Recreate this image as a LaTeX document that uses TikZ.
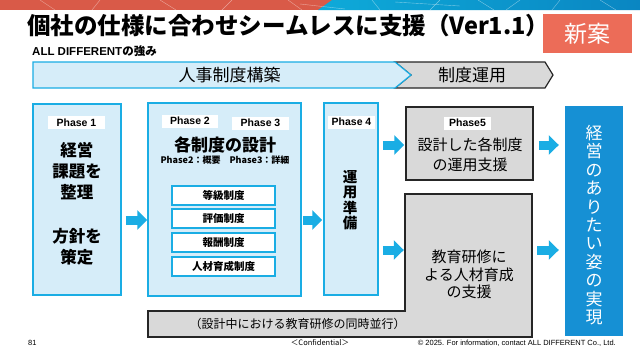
\documentclass[tikz,border=0pt]{standalone}
\usepackage{fontspec}
\setmainfont{Liberation Sans}
\newfontfamily\jp{Noto Sans CJK JP}
\usetikzlibrary{arrows.meta}
\definecolor{lb}{HTML}{D6EDF9}
\definecolor{cy}{HTML}{1AADE4}
\definecolor{gr}{HTML}{D9D9D9}
\definecolor{dk}{HTML}{262626}
\definecolor{db}{HTML}{1690D4}
\definecolor{sal}{HTML}{EC6C58}
\definecolor{rd}{HTML}{D95A48}
\definecolor{blA}{HTML}{0EAAD9}
\definecolor{blB}{HTML}{0A86C2}
\newcommand{\fs}[2]{\fontsize{#1}{#2}\selectfont}
\tikzset{
  bluebox/.style={draw=cy, fill=lb, line width=1.5pt, inner sep=0pt},
  greybox/.style={draw=dk, fill=gr, line width=1.5pt, inner sep=0pt},
  phasetag/.style={fill=white, inner sep=0pt, minimum height=13pt, font=\bfseries\fs{10.5}{12}},
  subbox/.style={draw=cy, fill=white, line width=1.5pt, minimum width=103pt, minimum height=19pt, inner sep=0pt, font=\jp\bfseries\fs{10.5}{12}},
  bigarrow/.style={draw=cy, line width=9pt, -{Triangle[length=10pt,width=19pt]}},
  txt/.style={inner sep=0pt, align=center}
}
\begin{document}
\begin{tikzpicture}[x=1pt,y=-1pt]
\useasboundingbox (0,0) rectangle (640,360);
\fill[white] (0,0) rectangle (640,360);
% top decorative strip
\fill[rd] (0,0) rectangle (332,10);
\shade[left color=blA, right color=blB] (318,10) -- (332,0) -- (640,0) -- (640,10) -- cycle;
\foreach \a/\b in {40/55,100/92,160/176,232/222,288/302,372/380,440/430,478/494,560/552,600/616,520/506}
  \draw[white, opacity=0.45, line width=0.4pt] (\a,0) -- (\b,10);
\draw[white, opacity=0.45, line width=0.4pt] (300,4) -- (345,9) (395,2) -- (460,6);
% title
\node[txt, anchor=west, font=\jp\bfseries\fs{23.5}{26}] (title) at (27,26) {個社の仕様に合わせシームレスに支援（Ver1.1）};
\node[fill=sal, minimum width=89pt, minimum height=39pt, inner sep=0pt, text=white, font=\jp\fs{23}{26}] (new) at (587.5,33.5) {新案};
\node[txt, anchor=west, font=\bfseries\fs{11.5}{13}] (sub) at (32,51) {ALL DIFFERENT{\jp の強み}};
% chevrons
\draw[draw=dk, fill=gr, line width=1.2pt] (395,62) -- (545,62) -- (553,75) -- (545,88) -- (395,88) -- (411,75) -- cycle;
\draw[draw=cy, fill=lb, line width=1.2pt] (33,62) -- (395,62) -- (411,75) -- (395,88) -- (33,88) -- cycle;
\node[txt, font=\jp\fs{17}{18}] (c1) at (229.5,75) {人事制度構築};
\node[txt, font=\jp\fs{17}{18}] (c2) at (472,75) {制度運用};
% phase 1
\node[bluebox, minimum width=88pt, minimum height=191pt] (p1) at (77,199.5) {};
\node[phasetag, minimum width=57pt] (t1) at (76.5,122.5) {Phase 1};
\node[txt, font=\jp\bfseries\fs{16.5}{21}] (p1a) at (77,171) {経営\\課題を\\整理};
\node[txt, font=\jp\bfseries\fs{16.5}{21}] (p1b) at (77,247) {方針を\\策定};
% phase 2/3
\node[bluebox, minimum width=153pt, minimum height=193pt] (p2) at (224.5,199.5) {};
\node[phasetag, minimum width=56pt] (t2) at (190,121) {Phase 2};
\node[phasetag, minimum width=57pt] (t3) at (260.5,123) {Phase 3};
\node[txt, font=\jp\bfseries\fs{17}{19}] (p2h) at (225,145) {各制度の設計};
\node[txt, font=\jp\bfseries\fs{9}{10}] (p2s) at (225,160) {Phase2：概要　Phase3：詳細};
\node[subbox] (s1) at (223.5,195.5) {等級制度};
\node[subbox] (s2) at (223.5,218.5) {評価制度};
\node[subbox] (s3) at (223.5,242.5) {報酬制度};
\node[subbox] (s4) at (223.5,266.5) {人材育成制度};
% phase 4
\node[bluebox, minimum width=54pt, minimum height=192pt] (p4) at (351,199) {};
\node[phasetag, minimum width=47pt] (t4) at (351.5,122) {Phase 4};
\node[txt, font=\jp\bfseries\fs{14.5}{15.5}] (p4a) at (350,200) {運\\用\\準\\備};
% phase 5
\node[greybox, minimum width=127pt, minimum height=73pt] (p5) at (469.5,143.5) {};
\node[phasetag, minimum width=47pt] (t5) at (467.5,123) {Phase5};
\node[txt, font=\jp\fs{15}{20}] (p5a) at (470,155) {設計した各制度\\の運用支援};
% lower L-shaped grey area
\draw[greybox] (405,194) -- (532,194) -- (532,337) -- (148,337) -- (148,311) -- (405,311) -- cycle;
\node[minimum width=127pt, minimum height=117pt, inner sep=0pt] (low) at (468.5,252.5) {};
\node[txt, font=\jp\fs{15}{17.5}] (lowa) at (469,274.5) {教育研修に\\よる人材育成\\の支援};
\node[txt, font=\jp\fs{12}{14}] (para) at (297.5,324) {（設計中における教育研修の同時並行）};
% goal box
\node[fill=db, minimum width=58pt, minimum height=230pt, inner sep=0pt] (goal) at (594,221) {};
\node[txt, text=white, font=\jp\fs{17}{18.4}] (goala) at (594,225) {経\\営\\の\\あ\\り\\た\\い\\姿\\の\\実\\現};
% arrows
\coordinate (ya) at (0,220);
\coordinate (yb) at (0,145);
\coordinate (yc) at (0,250);
\draw[bigarrow, shorten <=4pt] (p1.east |- ya) -- (p2.west |- ya);
\draw[bigarrow, shorten <=1pt, shorten >=1pt] (p2.east |- ya) -- (p4.west |- ya);
\draw[bigarrow, shorten <=4pt, shorten >=1pt] (p4.east |- yb) -- (p5.west |- yb);
\draw[bigarrow, shorten <=4pt, shorten >=1pt] (p4.east |- yc) -- (low.west |- yc);
\draw[bigarrow, shorten <=5pt, shorten >=6pt] (p5.east |- yb) -- (goal.west |- yb);
\draw[bigarrow, shorten <=5pt, shorten >=6pt] (low.east |- yc) -- (goal.west |- yc);
% footer
\node[txt, anchor=west, font=\fs{7.5}{9}] (pg) at (28,343) {81};
\node[txt, font=\jp\fs{7.5}{9}] (conf) at (320,343) {＜Confidential＞};
\node[txt, anchor=east, font=\fs{7.5}{9}] (copy) at (616,343) {© 2025. For information, contact ALL DIFFERENT Co., Ltd.};
\end{tikzpicture}
\end{document}
